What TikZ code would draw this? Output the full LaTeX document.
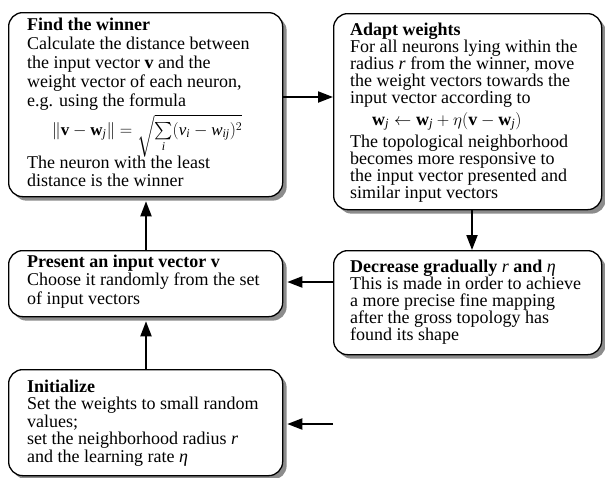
\documentclass[tikz,border=0pt]{standalone}
\usepackage{amsmath}
\usepackage{fontspec}
\setmainfont{Liberation Serif}
\usetikzlibrary{arrows.meta,shadows}

\tikzset{
  stage/.style={draw=black, line width=1.3pt, rounded corners=14pt, fill=white,
    inner sep=0pt, anchor=north west,
    drop shadow={shadow xshift=4pt, shadow yshift=-4pt, fill=black!45, opacity=1}},
  stagetext/.style={anchor=base west, inner sep=0pt, text=black},
  flow/.style={line width=2pt, -{Triangle[length=15pt,width=11pt]}}
}

% body text of a stage: 18pt type with a given line pitch
\newcommand{\stagebody}[2]{\parbox[t]{262pt}{\fontsize{18}{#1}\selectfont\raggedright #2}}

\begin{document}
\begin{tikzpicture}[x=1pt,y=-1pt]
\useasboundingbox (0,0) rectangle (605,477);

% ---- stage boxes ----
\node[stage, minimum width=274pt, minimum height=184pt] (find)    at (8,12)   {};
\node[stage, minimum width=268pt, minimum height=196pt] (adapt)   at (333,13) {};
\node[stage, minimum width=274pt, minimum height=66pt]  (present) at (8,250)  {};
\node[stage, minimum width=268pt, minimum height=104pt] (decr)    at (333,250){};
\node[stage, minimum width=274pt, minimum height=106pt] (init)    at (8,369)  {};

% ---- stage texts ----
\node[stagetext] (findtxt) at (27,30) {\stagebody{19}{%
  \textbf{Find the winner}\\
  Calculate the distance between\\
  the input vector $\mathbf{v}$ and the\\
  weight vector of each neuron,\\
  e.g. using the formula\\[10pt]
  \hspace*{25pt}\smash{\fontsize{17}{19}\selectfont$\left\|\mathbf{v}-\mathbf{w}_{\mathit{j}}\right\| =
    \sqrt{\sum\limits_{\mathit{i}}(\mathit{v}_{\mathit{i}}-\mathit{w}_{\mathit{ij}})^{2}}$}\\[14pt]
  The neuron with the least\\[-1pt]
  distance is the winner}};

\node[stagetext] (adapttxt) at (350,35) {\stagebody{17}{%
  \textbf{Adapt weights}\\
  For all neurons lying within the\\
  radius \textit{r} from the winner, move\\
  the weight vectors towards the\\
  input vector according to\\[5pt]
  \hspace*{22pt}\smash{$\mathbf{w}_{\mathit{j}} \leftarrow \mathbf{w}_{\mathit{j}} + \eta(\mathbf{v}-\mathbf{w}_{\mathit{j}})$}\\[5pt]
  The topological neighborhood\\
  becomes more responsive to\\
  the input vector presented and\\
  similar input vectors}};

\node[stagetext] (presenttxt) at (27,267) {\stagebody{18.5}{%
  \textbf{Present an input vector v}\\
  Choose it randomly from the set\\
  of input vectors}};

\node[stagetext] (decrtxt) at (350,272) {\stagebody{17}{%
  \textbf{Decrease gradually \textmd{\textit{r}} and \textmd{\textit{η}}}\\
  This is made in order to achieve\\
  a more precise fine mapping\\
  after the gross topology has\\
  found its shape}};

\node[stagetext] (inittxt) at (27,392) {\stagebody{17.5}{%
  \textbf{Initialize}\\
  Set the weights to small random\\
  values;\\
  set the neighborhood radius \textit{r}\\
  and the learning rate \textit{η}}};

% ---- connector rows and columns ----
\coordinate (rowAB) at (0,97);
\coordinate (rowDC) at (0,282);
\coordinate (rowIn) at (333,424);
\coordinate (colL)  at (146,0);
\coordinate (colR)  at (472,0);

\draw[flow] (find.east |- rowAB) -- (adapt.west |- rowAB);
\draw[flow] (adapt.south -| colR) -- (decr.north -| colR);
\draw[flow] (decr.west |- rowDC) -- ([xshift=4pt]present.east |- rowDC);
\draw[flow] (present.north -| colL) -- ([yshift=-4pt]find.south -| colL);
\draw[flow] (init.north -| colL) -- ([yshift=-4pt]present.south -| colL);
\draw[flow] (rowIn) -- ([xshift=4pt]init.east |- rowIn);
\end{tikzpicture}
\end{document}
